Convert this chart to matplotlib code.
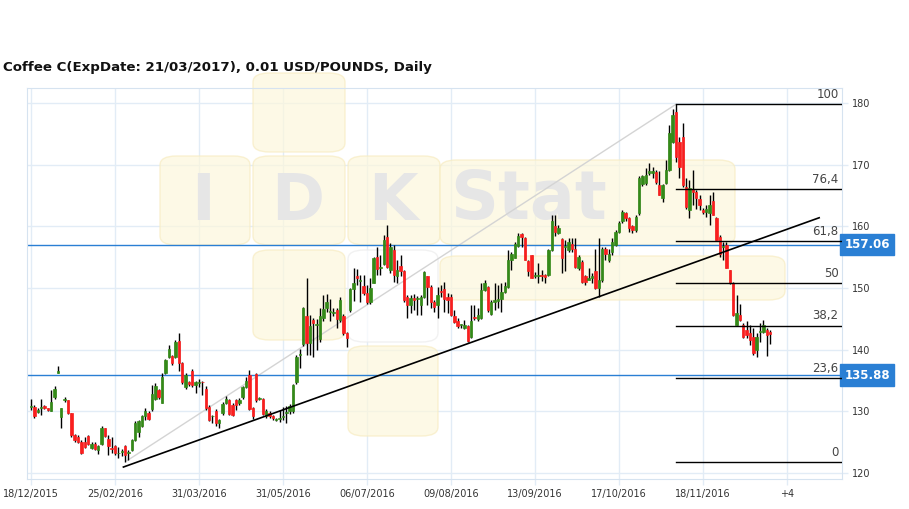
import matplotlib.pyplot as plt
from matplotlib.patches import FancyBboxPatch

title = 'Coffee C(ExpDate: 21/03/2017), 0.01 USD/POUNDS, Daily'

# daily OHLC, one entry per trading bar
opens = [
    130.8, 130.7, 129.9, 130.5, 130.9, 130.5, 130.1, 132.3, 136.3, 129.1,
    131.9, 131.8, 129.7, 126.2, 125.9, 125.1, 125.1, 126.0, 124.1, 124.8,
    123.7, 124.7, 127.3, 125.6, 124.0, 124.4, 123.2, 123.4, 124.4, 123.3,
    123.8, 125.4, 126.7, 127.7, 129.2, 129.8, 130.4, 132.1, 133.5, 131.3,
    136.3, 138.8, 139.0, 138.8, 141.5, 137.8, 133.9, 134.8, 136.6, 134.3,
    134.6, 134.8, 133.6, 130.8, 129.2, 130.1, 128.2, 129.7, 131.4, 131.9,
    131.1, 131.8, 131.3, 132.3, 134.0, 135.9, 130.5, 136.1, 132.0, 132.0,
    129.3, 129.8, 129.3, 128.6, 128.8, 129.1, 129.8, 130.0, 130.0, 134.8,
    139.2, 140.9, 145.4, 141.1, 144.8, 144.0, 141.8, 145.1, 146.7, 146.1,
    145.9, 146.5, 144.8, 145.5, 142.7, 146.5, 149.9, 151.9, 151.1, 150.3,
    149.2, 147.7, 150.8, 155.1, 153.2, 153.9, 158.3, 152.9, 156.2, 151.9,
    153.6, 152.7, 148.6, 147.3, 148.4, 148.2, 147.3, 148.5, 151.9, 150.2,
    147.7, 147.3, 149.5, 149.9, 148.6, 148.6, 145.4, 144.6, 144.0, 143.5,
    143.8, 142.1, 145.3, 145.0, 145.1, 149.7, 150.1, 145.8, 147.8, 147.9,
    148.3, 149.4, 150.1, 154.6, 154.8, 156.9, 158.7, 158.1, 154.4, 155.3,
    151.9, 152.0, 152.1, 152.1, 152.2, 156.2, 160.0, 158.9, 158.0, 156.6,
    156.2, 157.1, 156.4, 153.2, 154.3, 151.9, 151.3, 151.7, 152.7, 150.0,
    151.3, 156.4, 154.6, 155.9, 157.0, 159.1, 160.8, 162.1, 161.3, 160.0,
    159.4, 162.1, 166.8, 167.1, 168.6, 168.6, 168.8, 166.7, 164.6, 167.0,
    169.1, 173.7, 178.6, 173.7, 174.5, 166.4, 162.7, 166.1, 165.6, 164.4,
    162.7, 162.3, 162.1, 164.1, 161.4, 158.3, 156.7, 157.0, 152.9, 150.8,
    144.0, 145.6, 144.0, 143.2, 142.7, 142.1, 140.0, 142.9, 142.9, 143.2,
    142.9,
]
highs = [
    132.0, 131.0, 130.5, 132.0, 131.0, 130.6, 133.5, 134.1, 137.3, 130.6,
    132.4, 131.9, 129.8, 126.4, 126.2, 125.3, 125.8, 126.2, 125.0, 125.0,
    124.6, 127.6, 127.4, 126.2, 125.9, 124.6, 124.3, 124.0, 124.5, 123.8,
    125.6, 128.5, 128.7, 129.5, 130.5, 130.0, 134.3, 134.6, 133.7, 136.3,
    138.5, 140.8, 139.2, 141.6, 142.8, 138.0, 136.2, 135.0, 136.9, 134.9,
    135.2, 135.0, 134.1, 131.0, 129.4, 130.4, 128.8, 131.5, 132.5, 132.1,
    131.3, 132.0, 132.2, 134.1, 135.6, 136.8, 130.7, 136.2, 132.4, 132.2,
    130.4, 130.0, 129.5, 128.9, 130.2, 130.8, 130.9, 131.2, 134.5, 139.1,
    140.2, 147.0, 151.6, 145.6, 145.1, 145.0, 146.7, 148.9, 149.0, 148.3,
    146.8, 146.8, 148.6, 145.8, 142.9, 150.0, 153.2, 153.1, 152.2, 152.2,
    150.5, 151.6, 155.1, 156.7, 155.4, 158.6, 160.3, 157.3, 157.0, 154.6,
    155.4, 153.0, 148.9, 148.9, 149.0, 148.8, 148.9, 152.8, 152.0, 150.5,
    148.0, 150.2, 150.5, 151.0, 149.2, 149.0, 146.5, 145.1, 144.2, 144.8,
    144.0, 147.2, 147.3, 146.8, 150.8, 151.3, 150.3, 148.0, 150.8, 150.5,
    150.8, 151.0, 156.2, 155.9, 157.4, 158.9, 158.9, 158.3, 154.6, 155.4,
    152.6, 154.0, 153.0, 152.3, 156.4, 161.9, 161.9, 160.2, 158.1, 157.8,
    158.1, 158.1, 158.1, 155.4, 154.6, 152.1, 153.2, 152.4, 156.4, 158.1,
    156.6, 156.7, 156.4, 158.1, 159.4, 160.8, 162.7, 162.4, 161.6, 160.3,
    161.9, 168.1, 168.3, 169.4, 170.2, 169.7, 169.2, 168.9, 166.9, 170.8,
    176.4, 179.1, 179.8, 174.5, 176.7, 167.8, 167.5, 169.1, 165.9, 165.1,
    163.0, 163.4, 165.1, 165.6, 161.6, 158.6, 157.5, 157.5, 153.0, 151.0,
    148.9, 147.5, 144.3, 144.6, 144.0, 143.5, 142.7, 144.3, 144.8, 143.5,
    143.2,
]
lows = [
    130.2, 129.0, 129.8, 129.4, 130.4, 130.1, 130.0, 132.0, 136.2, 127.4,
    131.6, 129.6, 125.9, 125.0, 124.9, 123.1, 124.1, 124.5, 124.0, 123.8,
    123.1, 124.5, 125.8, 122.9, 123.2, 122.9, 122.4, 122.8, 121.8, 122.1,
    123.6, 125.2, 125.9, 127.5, 128.7, 128.6, 130.0, 131.8, 132.1, 131.3,
    136.0, 138.6, 137.6, 138.6, 136.5, 134.5, 133.7, 134.2, 133.9, 133.0,
    134.0, 132.7, 130.2, 128.5, 128.1, 127.6, 127.4, 129.5, 131.2, 129.4,
    129.2, 130.2, 131.0, 132.0, 133.8, 130.2, 128.8, 131.6, 131.8, 129.4,
    129.0, 129.0, 128.6, 128.4, 128.3, 128.6, 128.2, 129.6, 129.8, 134.5,
    137.0, 140.6, 139.2, 139.2, 138.9, 140.0, 141.3, 144.6, 146.2, 144.6,
    145.5, 143.5, 144.5, 142.4, 140.5, 146.2, 147.9, 150.5, 147.8, 148.9,
    147.4, 147.5, 150.8, 152.1, 152.1, 153.8, 153.2, 152.4, 151.0, 150.8,
    151.9, 147.8, 145.1, 145.9, 146.5, 145.6, 145.6, 148.4, 147.3, 146.7,
    146.2, 145.1, 148.5, 146.2, 145.9, 145.5, 144.3, 143.5, 143.6, 143.3,
    141.3, 141.9, 144.9, 144.6, 145.0, 149.5, 146.2, 145.6, 146.5, 146.8,
    146.2, 149.2, 150.0, 153.0, 154.8, 156.7, 156.7, 154.5, 151.9, 151.6,
    151.6, 150.8, 151.2, 150.8, 152.0, 156.0, 158.5, 158.7, 152.4, 152.7,
    155.9, 155.9, 153.2, 152.9, 150.8, 150.5, 151.3, 150.8, 149.9, 148.6,
    151.0, 154.6, 154.3, 155.4, 156.9, 158.9, 160.5, 160.8, 159.1, 158.9,
    159.1, 161.9, 166.5, 166.7, 168.3, 167.9, 166.9, 165.1, 164.0, 166.9,
    169.0, 173.5, 170.5, 167.8, 166.4, 162.9, 161.3, 163.5, 162.9, 162.7,
    162.0, 161.6, 160.2, 161.9, 157.8, 155.1, 154.6, 153.2, 150.7, 145.4,
    144.0, 144.6, 141.9, 141.9, 140.8, 139.2, 138.9, 141.3, 142.7, 139.0,
    141.0,
]
closes = [
    130.9, 129.2, 130.2, 130.6, 130.6, 130.2, 131.6, 133.6, 136.5, 130.5,
    132.0, 129.8, 126.2, 125.3, 125.1, 123.3, 124.3, 124.7, 124.7, 124.0,
    124.4, 127.4, 126.0, 124.4, 123.9, 123.3, 123.3, 123.5, 122.9, 123.5,
    125.4, 128.2, 128.4, 129.2, 130.0, 128.8, 132.9, 134.1, 132.4, 135.6,
    138.3, 140.2, 137.9, 141.3, 137.9, 134.8, 135.9, 134.5, 134.3, 134.7,
    134.8, 134.7, 130.5, 128.7, 129.3, 128.1, 128.6, 131.2, 132.1, 129.6,
    129.4, 131.1, 131.9, 133.9, 135.0, 130.4, 129.2, 131.9, 132.2, 129.6,
    130.1, 129.2, 128.9, 128.7, 129.0, 129.2, 129.9, 130.9, 134.3, 138.9,
    139.3, 146.7, 141.1, 143.8, 144.3, 144.2, 145.4, 146.6, 147.7, 146.2,
    146.2, 145.0, 148.1, 142.7, 141.9, 149.9, 150.8, 151.7, 151.2, 149.2,
    147.7, 150.0, 154.9, 153.1, 153.5, 157.8, 153.5, 156.6, 152.2, 152.9,
    152.7, 148.1, 147.2, 148.4, 148.0, 148.3, 148.5, 152.6, 150.1, 147.7,
    147.0, 148.9, 149.3, 148.3, 148.1, 145.6, 144.5, 143.8, 144.0, 144.0,
    141.4, 144.7, 145.2, 145.6, 149.7, 150.8, 146.5, 147.8, 148.1, 148.3,
    149.4, 150.4, 154.6, 155.5, 157.1, 158.5, 158.3, 154.6, 152.7, 151.7,
    152.2, 152.1, 151.9, 151.8, 156.2, 160.9, 159.1, 159.8, 154.8, 156.8,
    157.5, 156.4, 153.5, 155.1, 151.0, 151.0, 151.7, 152.0, 150.0, 151.3,
    156.4, 155.6, 155.6, 157.5, 159.1, 160.5, 162.4, 161.3, 159.7, 159.4,
    161.6, 167.8, 168.1, 168.4, 169.0, 169.0, 167.2, 165.1, 166.7, 169.1,
    175.1, 178.1, 171.3, 169.7, 166.7, 163.2, 166.2, 165.6, 164.6, 163.5,
    162.3, 162.9, 163.5, 161.9, 157.8, 155.6, 156.9, 153.2, 150.8, 145.6,
    145.9, 144.8, 142.1, 142.4, 141.6, 139.4, 142.1, 143.0, 144.0, 142.4,
    142.5,
]

date_labels = ['18/12/2015', '25/02/2016', '31/03/2016', '31/05/2016', '06/07/2016',
               '09/08/2016', '13/09/2016', '17/10/2016', '18/11/2016', '+4']
label_step = 25
y_ticks = [120, 130, 140, 150, 160, 170, 180]

# fibonacci retracement drawn from the swing low to the swing high
fib_levels = [0, 23.6, 38.2, 50, 61.8, 76.4, 100]
fib_low, fib_high = 121.75, 179.8
fib_start = 192

price_lines = [157.06, 135.88]
trend_x, trend_y = [27.5, 234.6], [121.0, 161.4]
swing_x, swing_y = [28.5, 192], [122.0, 179.8]

GREEN = '#348a18'
RED = '#fa1e1e'
GRID = '#e2ecf6'
BLUE = '#2a7fd4'

fig = plt.figure(figsize=(9.09, 5.09), dpi=100)
W, H = 909, 509
ax = fig.add_axes([27 / W, 30 / H, 815 / W, 391 / H])


# watermark: rounded tiles in pixel coords (top-left origin), above grid, below candles
def wm_box(x0, y0, x1, y1, face='#fdf7dc', edge='#f7ecc2'):
    p = FancyBboxPatch((x0 / W, 1 - y1 / H), (x1 - x0) / W, (y1 - y0) / H,
                       boxstyle='round,pad=0,rounding_size=0.018',
                       transform=fig.transFigure, facecolor=face, edgecolor=edge,
                       lw=1, alpha=0.7, zorder=1, clip_on=False)
    ax.add_patch(p)


wm_box(253, 73, 345, 152)
wm_box(160, 156, 250, 245)
wm_box(253, 156, 345, 245)
wm_box(348, 156, 440, 245)
wm_box(440, 160, 735, 245)
wm_box(253, 250, 345, 340)
wm_box(348, 250, 438, 342, face='#ffffff', edge='#ececec')
wm_box(348, 346, 438, 436)
wm_box(440, 256, 785, 300)
for ch, xc in [('I', 203), ('D', 298), ('K', 393)]:
    ax.text(xc / W, 1 - 202 / H, ch, transform=fig.transFigure, fontsize=46,
            fontweight='bold', color='#e6e6e6', ha='center', va='center', zorder=1.2)
ax.text(450 / W, 1 - 200 / H, 'Stat', transform=fig.transFigure, fontsize=48,
        fontweight='bold', color='#e6e6e6', ha='left', va='center', zorder=1.2)

n = len(closes)
idx = list(range(n))

# candles
for i in idx:
    o, h, l, c = opens[i], highs[i], lows[i], closes[i]
    col = GREEN if c >= o else RED
    ax.vlines(i, l, h, color='black', lw=1, zorder=3)
    body = max(abs(c - o), 0.15)
    ax.bar(i, body, bottom=min(o, c), width=0.72, color=col, edgecolor=col,
           lw=0.5, zorder=4)

# swing line and trend line
ax.plot(swing_x, swing_y, color='#d4d4d4', lw=1, zorder=2)
ax.plot(trend_x, trend_y, color='black', lw=1.2, zorder=5)

# horizontal price lines with tags on the axis
for p in price_lines:
    ax.axhline(p, color=BLUE, lw=1, zorder=2)
    ax.annotate(f'{p:.2f}', xy=(1.0, p), xycoords=('axes fraction', 'data'),
                xytext=(18, 0), textcoords='offset points', ha='center', va='center',
                fontsize=8.5, fontweight='bold', color='white', annotation_clip=False,
                bbox=dict(boxstyle='square,pad=0.36', fc=BLUE, ec=BLUE))

# fibonacci levels
xmin, xmax = -1.2, 241.4
for lvl in fib_levels:
    v = fib_low + (fib_high - fib_low) * lvl / 100
    ax.plot([fib_start, xmax], [v, v], color='black', lw=1, zorder=5)
    ax.text(xmax - 1, v + 0.5, f'{lvl:g}'.replace('.', ','), ha='right', va='bottom',
            fontsize=8.5, color='#444444', zorder=6)

ax.set_xlim(xmin, xmax)
ax.set_ylim(119.06, 182.43)
ax.set_xticks([k * label_step for k in range(len(date_labels))])
ax.set_xticklabels(date_labels)
ax.set_yticks(y_ticks)
ax.yaxis.tick_right()
ax.grid(True, color=GRID, lw=1, zorder=0)
ax.set_axisbelow(True)
ax.tick_params(axis='both', labelsize=7, colors='#333333', length=4, width=1)
ax.tick_params(axis='both', color=GRID)
for s in ax.spines.values():
    s.set_color('#d6e3f0')

fig.text(3 / W, 1 - 68 / H, title, fontsize=9.6, fontweight='bold', color='#111111',
         ha='left', va='center')

fig.savefig('out.png', dpi=100)
